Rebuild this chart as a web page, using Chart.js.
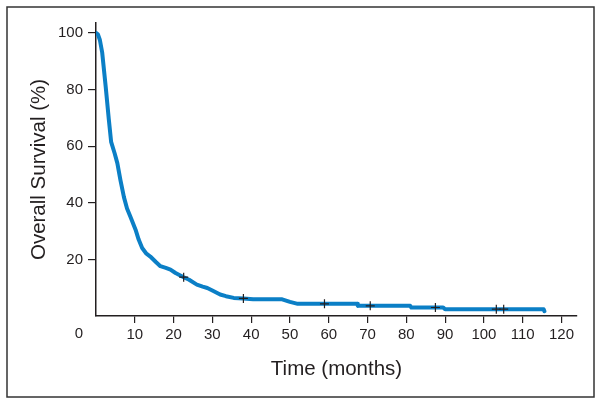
<!DOCTYPE html>
<html>
<head>
<meta charset="utf-8">
<script src="https://cdn.jsdelivr.net/npm/chart.js@4.4.0/dist/chart.umd.min.js"></script>
<style>
  html, body { margin: 0; padding: 0; background: #fff; }
  #wrap { width: 602px; height: 404px; }
</style>
</head>
<body>
<div id="wrap"><canvas id="chartSurvie" width="602" height="404"></canvas></div>
<script>
// === Données ===
const temps = [0, 0.5, 1, 1.6, 2.5, 3.3, 3.9, 4.8, 5.5, 6.3, 7.2, 8, 8.9, 10.2, 11, 11.9, 13, 14, 15.5, 16.6, 18, 19.2, 20.5, 22.6, 24, 26, 27.5, 28.7, 30, 32, 33.5, 35.5, 38, 40.5, 48, 50, 52, 67.3, 67.5, 81, 81.3, 89.5, 90, 115.4, 115.6];
const survie = [100, 99.5, 97.5, 93, 81, 69.5, 61.5, 57.5, 54, 48, 42, 38, 35, 30.5, 27, 24, 22, 21, 19, 17.6, 17, 16.4, 15.2, 13.7, 12.8, 11.1, 10.4, 9.9, 9, 7.6, 7, 6.4, 6.2, 5.9, 5.9, 5, 4.3, 4.3, 3.6, 3.6, 3, 3, 2.4, 2.4, 1.7];

// censures (+)
const tempsCensure = [22.6, 38, 58.9, 70.7, 87.5, 103.2, 105.1];
const survieCensure = [13.7, 6.2, 4.3, 3.6, 3.0, 2.4, 2.4];

const ticksX = [10, 20, 30, 40, 50, 60, 70, 80, 90, 100, 110, 120];
const ticksY = [20, 40, 60, 80, 100];

const POLICE = "'Liberation Sans', Arial, sans-serif";
const NOIR = "#231f20";

// === Cadre + "0" à l'origine ===
const cadre = {
  id: "cadre",
  afterDraw(chart) {
    const c = chart.ctx;
    c.save();
    c.strokeStyle = "#333";
    c.lineWidth = 1.5;
    c.strokeRect(7, 7, 587, 390);
    c.fillStyle = NOIR;
    c.font = "15px " + POLICE;
    c.textAlign = "center";
    c.textBaseline = "middle";
    c.fillText("0", 79, 334);
    c.restore();
  }
};

const ctx = document.getElementById("chartSurvie").getContext("2d");
const chart = new Chart(ctx, {
  type: "scatter",
  data: {
    datasets: [
      {
        label: "Censures",
        data: tempsCensure.map((t, i) => ({ x: t, y: survieCensure[i] })),
        pointStyle: "cross",
        pointRadius: 4.5,
        borderColor: NOIR,
        borderWidth: 1.2,
        showLine: false,
        order: 0
      },
      {
        label: "Survie globale",
        data: temps.map((t, i) => ({ x: t, y: survie[i] })),
        showLine: true,
        borderColor: "#0b7fc6",
        borderWidth: 4,
        borderJoinStyle: "round",
        borderCapStyle: "round",
        pointRadius: 0,
        fill: false,
        tension: 0,
        order: 1
      }
    ]
  },
  options: {
    responsive: false,
    animation: false,
    layout: { padding: { left: 0, top: 23, right: 25, bottom: 0 } },
    plugins: { legend: { display: false }, tooltip: { enabled: false } },
    scales: {
      x: {
        type: "linear",
        min: 0,
        max: 124,
        afterBuildTicks: (s) => { s.ticks = ticksX.map(v => ({ value: v })); },
        afterFit: (s) => { s.height = 88; },
        border: { display: true, color: NOIR, width: 1.5 },
        grid: { drawOnChartArea: false, drawTicks: true, tickLength: 7, color: NOIR, lineWidth: 1.2 },
        ticks: { color: NOIR, font: { family: POLICE, size: 15 }, padding: 3, maxRotation: 0 },
        title: { display: true, text: "Time (months)", color: NOIR, font: { family: POLICE, size: 20.5 }, padding: { top: 0, bottom: 22 } }
      },
      y: {
        type: "linear",
        min: 0,
        max: 103.5,
        afterBuildTicks: (s) => { s.ticks = ticksY.map(v => ({ value: v })); },
        afterFit: (s) => { s.width = 96; },
        border: { display: true, color: NOIR, width: 1.5 },
        grid: { drawOnChartArea: false, drawTicks: true, tickLength: 8, color: NOIR, lineWidth: 1.2 },
        ticks: { color: NOIR, font: { family: POLICE, size: 15 }, padding: 5 },
        title: { display: true, text: "Overall Survival (%)", color: NOIR, font: { family: POLICE, size: 20.5 }, padding: { top: 27, bottom: 0 } }
      }
    }
  },
  plugins: [cadre]
});
</script>
</body>
</html>
